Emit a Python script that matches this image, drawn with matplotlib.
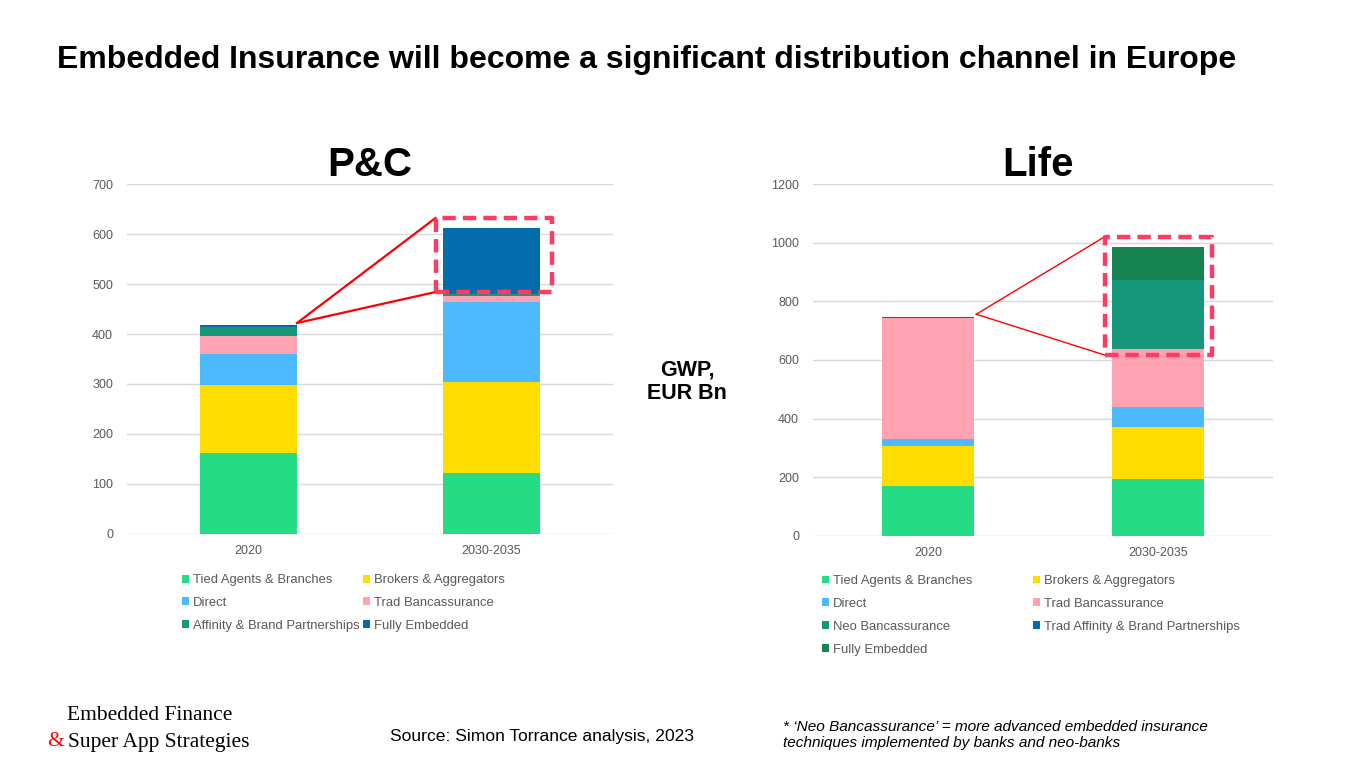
import matplotlib
matplotlib.use("Agg")
import matplotlib.pyplot as plt
import numpy as np

plt.rcParams['font.family'] = ['Liberation Sans', 'DejaVu Sans']

# ---- data (GWP, EUR Bn) ----
periods = ["2020", "2030-2035"]

pc_labels = ["Tied Agents & Branches", "Brokers & Aggregators", "Direct",
             "Trad Bancassurance", "Affinity & Brand Partnerships", "Fully Embedded"]
pc_tied = [162, 122]
pc_brokers = [135, 182]
pc_direct = [63, 160]
pc_trad_banc = [36, 13]
pc_affinity = [18, 4]
pc_embedded = [4, 131]

life_labels = ["Tied Agents & Branches", "Brokers & Aggregators", "Direct",
               "Trad Bancassurance", "Neo Bancassurance",
               "Trad Affinity & Brand Partnerships", "Fully Embedded"]
life_tied = [170, 194]
life_brokers = [136, 177]
life_direct = [24, 68]
life_trad_banc = [412, 198]
life_neo_banc = [0, 235]
life_affinity = [4, 2]
life_embedded = [0, 112]

pc_colors = ["#25DB84", "#FFDD00", "#4DBAFF", "#FFA3B3", "#16967A", "#026CAC"]
life_colors = ["#25DB84", "#FFDD00", "#4DBAFF", "#FFA3B3", "#16967A", "#026CAC", "#168350"]

GRID = "#D9D9D9"
TICK = "#595959"
BOX = "#FF3B63"


def stacked(ax, series, colors, labels, ymax, step):
    x = np.arange(len(periods))
    bottom = np.zeros(len(periods))
    bars = []
    for vals, c, lab in zip(series, colors, labels):
        b = ax.bar(x, vals, 0.4, bottom=bottom, color=c, label=lab, zorder=2)
        bars.append(b)
        bottom += np.array(vals)
    ax.set_xlim(-0.5, 1.5)
    ax.set_ylim(0, ymax)
    ax.set_yticks(np.arange(0, ymax + 1, step))
    ax.set_xticks(x, periods)
    ax.grid(axis="y", color=GRID, lw=1, zorder=0)
    for s in ax.spines.values():
        s.set_visible(False)
    ax.tick_params(length=0, labelsize=9, labelcolor=TICK, pad=10)
    ax.tick_params(axis="x", pad=8)
    return bars, bottom


def zoom_box(ax, x0, y_start, box_x0, box_x1, box_y0, box_y1, lw):
    ax.plot([x0, box_x0], [y_start, box_y1], color="red", lw=lw, zorder=3, clip_on=False)
    ax.plot([x0, box_x0], [y_start, box_y0], color="red", lw=lw, zorder=3, clip_on=False)
    ax.plot([box_x0, box_x1, box_x1, box_x0, box_x0],
            [box_y0, box_y0, box_y1, box_y1, box_y0],
            color=BOX, lw=3.2, ls=(0, (3, 1.6)), zorder=4, clip_on=False)


fig = plt.figure(figsize=(13.62, 7.68), dpi=100)

# ---- P&C ----
ax1 = fig.add_axes([0.0932, 0.3047, 0.3568, 0.4557])
pc_series = [pc_tied, pc_brokers, pc_direct, pc_trad_banc, pc_affinity, pc_embedded]
bars1, tot1 = stacked(ax1, pc_series, pc_colors, pc_labels, 700, 100)
emb_base = tot1[1] - pc_embedded[1]
zoom_box(ax1, 0.2, tot1[0] + 4, 0.77, 1.25, emb_base + 3, tot1[1] + 20, 1.6)
ax1.set_title("P&C", fontsize=29, fontweight="bold", pad=4)
order = [0, 2, 4, 1, 3, 5]
fig.legend([bars1[i] for i in order], [pc_labels[i] for i in order],
           loc="upper left", bbox_to_anchor=(0.1295, 0.259), ncol=2, frameon=False,
           fontsize=9.4, labelcolor=TICK, handlelength=0.55, handleheight=0.55,
           handletextpad=0.3, columnspacing=0.3, labelspacing=0.82, borderaxespad=0)

# ---- Life ----
ax2 = fig.add_axes([0.5969, 0.3021, 0.3377, 0.4583])
life_series = [life_tied, life_brokers, life_direct, life_trad_banc,
               life_neo_banc, life_affinity, life_embedded]
bars2, tot2 = stacked(ax2, life_series, life_colors, life_labels, 1200, 200)
neo_base = life_tied[1] + life_brokers[1] + life_direct[1] + life_trad_banc[1]
zoom_box(ax2, 0.21, tot2[0] + 10, 0.768, 1.234, neo_base - 20, tot2[1] + 34, 1.0)
ax2.set_title("Life", fontsize=29, fontweight="bold", pad=4, x=0.489)
order = [0, 2, 4, 6, 1, 3, 5]
fig.legend([bars2[i] for i in order], [life_labels[i] for i in order],
           loc="upper left", bbox_to_anchor=(0.5995, 0.258), ncol=2, frameon=False,
           fontsize=9.4, labelcolor=TICK, handlelength=0.55, handleheight=0.55,
           handletextpad=0.3, columnspacing=4.65, labelspacing=0.84, borderaxespad=0)

# ---- texts ----
fig.text(57 / 1362, 1 - 60 / 768, "Embedded Insurance will become a significant distribution channel in Europe",
         fontsize=23, fontweight="bold", va="center", ha="left")
fig.text(687 / 1362, 1 - 382 / 768, "GWP,\nEUR Bn", fontsize=15.5, fontweight="bold",
         ha="center", va="center", linespacing=1.15)
fig.text(390 / 1362, 1 - 737 / 768, "Source: Simon Torrance analysis, 2023", fontsize=12.6,
         ha="left", va="center")
fig.text(783 / 1362, 1 - 735 / 768,
         "* \u2018Neo Bancassurance\u2019 = more advanced embedded insurance\n"
         "techniques implemented by banks and neo-banks",
         fontsize=11.1, style="italic", ha="left", va="center", linespacing=1.2)
fig.text(67 / 1362, 1 - 716 / 768, "Embedded Finance", family="Liberation Serif",
         fontsize=15.5, ha="left", va="center")
fig.text(47 / 1362, 1 - 742 / 768, "&", family="Liberation Serif", color="red",
         fontsize=15.5, ha="left", va="center")
fig.text(68 / 1362, 1 - 742 / 768, "Super App Strategies", family="Liberation Serif",
         fontsize=15.5, ha="left", va="center")

fig.savefig("out.png", dpi=100)
